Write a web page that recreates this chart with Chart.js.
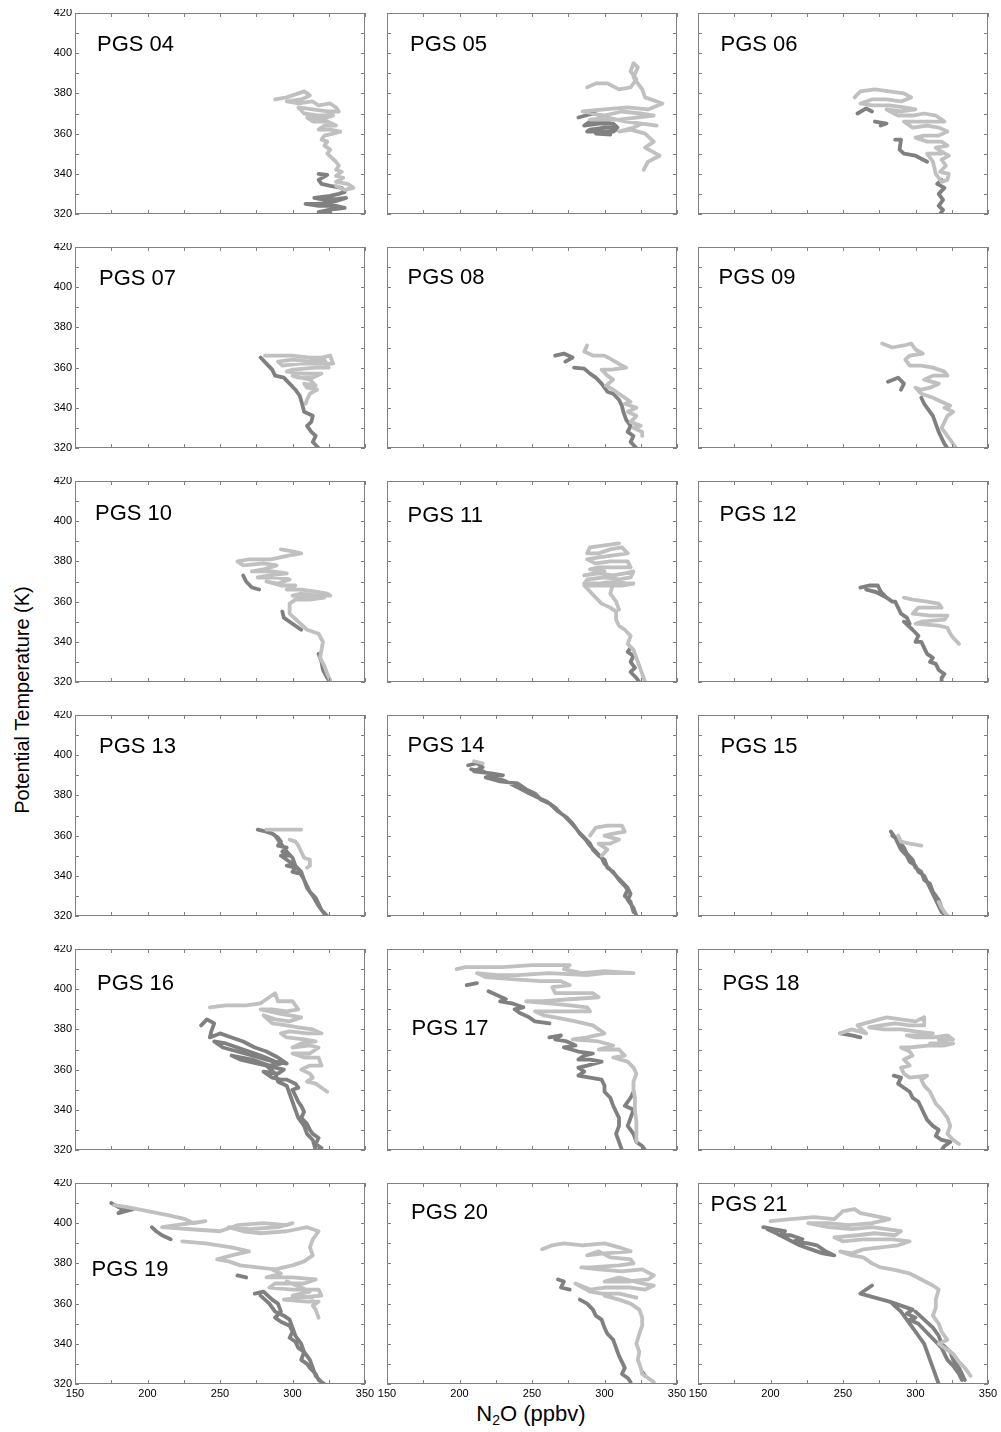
<!DOCTYPE html>
<html>
<head>
<meta charset="utf-8">
<title>PGS N2O profiles</title>
<script src="https://cdn.jsdelivr.net/npm/chart.js@4.4.1/dist/chart.umd.min.js"></script>
<style>
  body { margin: 0; background: #fff; width: 1001px; height: 1432px; position: relative; overflow: hidden;
         font-family: "Liberation Sans", Arial, sans-serif; }
  canvas { position: absolute; }
  #ytitle { position: absolute; left: 22px; top: 700px; transform: translate(-50%, -50%) rotate(-90deg);
            font-size: 20px; white-space: nowrap; }
  #xtitle { position: absolute; left: 531px; top: 1414px; transform: translate(-50%, -50%);
            font-size: 22px; white-space: nowrap; }
  #xtitle sub { font-size: 14px; vertical-align: -4px; }
</style>
</head>
<body>
<div id="ytitle">Potential Temperature (K)</div>
<div id="xtitle">N<sub>2</sub>O (ppbv)</div>
<script>
// axis ticks
const xTickValues = [150, 200, 250, 300, 350];
const yTickValues = [320, 340, 360, 380, 400, 420];
const xMinorTicks = [150, 175, 200, 225, 250, 275, 300, 325, 350];
const yMinorTicks = [320, 330, 340, 350, 360, 370, 380, 390, 400, 410, 420];

const panelNames = ['PGS 04', 'PGS 05', 'PGS 06', 'PGS 07', 'PGS 08', 'PGS 09',
                    'PGS 10', 'PGS 11', 'PGS 12', 'PGS 13', 'PGS 14', 'PGS 15',
                    'PGS 16', 'PGS 17', 'PGS 18', 'PGS 19', 'PGS 20', 'PGS 21'];

// [N2O, theta] pairs, null = gap in the track
const pgs04Light = [[288,377],[296,378],[304,380],[308,381],[312,379],[306,377],[296,376],[304,375],[314,376],[318,374],[326,375],[330,373],[332,371],[324,371],[314,372],[304,373],[308,370],[318,369],[328,369],[320,367],[310,368],[314,366],[324,366],[330,364],[322,364],[318,362],[326,362],[333,361],[328,360],[322,359],[320,357],[324,356],[322,354],[326,352],[324,350],[327,348],[330,346],[332,344],[330,342],[334,341],[330,339],[335,338],[330,336],[338,335],[342,333],[336,332],[330,334]];
const pgs04Dark = [[318,340],[324,339.5],[318,337],[320,335],[326,334],[334,333],[336,331],[332,330],[326,329],[315,328],[322,327],[331,327.5],[337,328],[328,326],[316,325],[309,325],[318,324],[330,324],[336,323],[325,322],[318,321],[326,320.5],[320,319.5]];

const pgs05Light = [[288,383],[294,385],[302,385],[310,382],[318,383],[322,387],[318,391],[320,395],[323,393],[320,388],[326,382],[328,378],[340,375],[330,372],[316,373],[300,372],[285,371],[300,369],[312,371],[325,370],[334,369],[322,368],[310,367],[290,367],[302,368],[315,366],[336,364],[326,365],[320,363],[310,361],[318,362],[328,360],[334,356],[328,353],[338,349],[330,346],[327,342]];
const pgs05Dark = [[282,368],[292,370],[298,369],[296,367],[304,367],[290,366],[286,364],[296,365],[306,365],[309,363],[300,363],[290,362],[288,361],[298,361],[306,361],[308,362],[300,360],[294,360],[304,359.5]];

const pgs06Light = [[258,378],[262,381],[272,382],[282,381],[292,380],[297,378],[290,376],[280,377],[270,377],[262,375],[270,374],[282,374],[292,373],[300,372],[290,371],[280,372],[288,369],[298,369],[306,370],[314,369],[320,366],[312,366],[300,366],[292,366],[298,363],[308,364],[316,363],[322,361],[316,359],[306,359],[300,358],[308,356],[318,356],[322,354],[314,353],[318,351],[323,349],[318,347],[321,344],[317,341],[323,340],[322,337],[318,336],[314,340],[312,346],[308,350],[318,350]];
const pgs06Dark = [[260,370],[266,372.5],[270,371],null,[272,366],[280,365],[276,364],null,[286,357],[290,357],[289,352],[292,350],[300,349],[308,346],null,[318,337],[315,335],[320,333],[316,330],[319,327],[316,324],[319,322],[317,320]];

const pgs07Light = [[281,366],[290,366],[300,366],[312,365],[320,365],[326,366],[328,362],[318,362],[305,362],[293,361],[290,363],[300,364],[312,363],[322,364],[325,360],[316,360],[300,359],[296,358],[308,357],[320,357],[314,355],[304,355],[300,356],[312,354],[316,351],[308,352],[310,350],[317,349],[312,347],[310,344],[309,342]];
const pgs07Dark = [[278,365],[282,362],[286,359],[288,356],[294,355],[298,352],[302,349],[305,346],[307,341],[308,338],[314,336],[313,333],[310,331],[313,328],[316,326],[314,323],[318,320]];

const pgs08Light = [[288,371],[286,368],[292,366],[300,366],[305,364],[312,361],[315,360],[305,359],[298,359],[302,356],[306,354],[301,351],[306,349],[312,346],[318,343],[314,342],[322,340],[316,338],[322,336],[318,333],[325,331],[320,330],[326,328],[326,326]];
const pgs08Dark = [[266,366],[272,367],[278,365],[273,363],null,[279,360],[286,359.5],[290,357],[294,355],[298,352],[302,348],[306,347],[310,344],[312,341],[313,338],[315,334],[318,331],[316,328],[320,326],[318,323],[322,320]];

const pgs09Light = [[277,372],[284,370],[292,371],[297,372],[300,369],[305,367],[296,366],[293,364],[296,361],[304,361],[312,360],[320,358],[322,356],[312,356],[306,354],[316,352],[310,350],[304,349],[300,350],[304,347],[312,345],[318,343],[324,341],[320,340],[326,338],[322,336],[320,333],[318,330],[322,326],[325,323],[328,320]];
const pgs09Dark = [[281,353],[288,355],[292,352],[290,349],null,[304,345],[306,342],[309,339],[312,336],[314,332],[316,328],[318,325],[320,322],[322,320]];

const pgs10Light = [[292,386],[300,385],[306,384],[298,383],[285,381],[270,381],[262,380],[266,378],[280,379],[289,378],[280,376],[272,375],[286,375],[296,374],[284,373],[276,372],[288,372],[298,371],[290,369],[282,370],[292,368],[302,368],[296,366],[306,366],[316,365],[324,364],[326,363],[316,363],[306,364],[300,363],[310,362],[322,362],[312,361],[302,361],[298,359],[298,357],[298,354],[304,350],[310,346],[318,344],[321,340],[320,336],[319,332],[322,328],[324,324],[326,321]];
const pgs10Dark = [[266,373],[268,370],[272,367],[277,366],null,[293,355],[294,352],[298,350],[302,348],[306,346],null,[318,334],[320,330],[321,326],[324,322],[326,320]];

const pgs11Light = [[310,389],[300,388],[290,387],[288,384],[296,384],[304,386],[312,387],[316,384],[306,383],[296,382],[288,381],[294,379],[304,380],[316,380],[318,377],[308,377],[296,377],[290,376],[300,375],[286,373],[296,374],[306,373],[314,374],[320,375],[318,372],[310,371],[300,372],[288,371],[286,369],[296,369],[306,370],[316,369],[320,369],[312,368],[300,368],[286,368],[290,365],[294,362],[298,359],[304,357],[308,355],[308,351],[310,348],[314,346],[318,343],[316,339],[320,336],[322,332],[324,328],[326,324],[328,320],null,[306,369],[304,364],[308,360],[310,356]];
const pgs11Dark = [[318,337],[316,335],[320,333],[318,330],[321,327],[318,325],[322,322],[324,320]];

const pgs12Light = [[292,362],[298,361],[308,360],[316,359],[318,357],[302,357],[298,354],[310,353],[322,353],[320,351],[304,350],[300,349],[316,348],[322,347],[324,344],[326,342],[330,339]];
const pgs12Dark = [[262,367],[268,368],[274,368],[276,365],[280,362],[272,365],[266,366],[276,364],[284,360],[286,360],[288,357],[290,354],[294,352],[296,349],[292,350],[298,346],[302,343],[300,340],[304,340],[306,337],[308,334],[312,332],[310,330],[314,329],[316,326],[320,324],[318,322],[318,320]];

const pgs13Light = [[282,363],[292,363],[300,363],[306,363],null,[298,358],[302,357],[304,355],[306,352],[308,349],[312,348],[312,345],[310,344]];
const pgs13Dark = [[276,363],[282,362],[286,361],[290,359],[292,357],[290,355],[296,354],[293,352],[298,350],[292,350],[296,348],[300,346],[296,345],[302,344],[300,342],[306,341],[304,343],[308,338],[310,335],[312,332],[316,329],[318,326],[320,323],[324,320],null,[288,360],[292,356],[296,352],[300,349],[302,345],[306,342],[308,338],[310,334],[314,330],[318,325],[322,321]];

const pgs14Light = [[210,397],[216,396],null,[290,360],[294,364],[302,365],[312,365],[314,362],[306,361],[300,360],[310,358],[304,356],[296,356],[302,353],[298,350]];
const pgs14Dark = [[206,395],[212,396],[216,394],[210,392],[222,391],[230,390],[218,389],[228,387],[240,386],[246,383],[252,381],[256,378],[262,376],[268,372],[272,370],[276,367],[280,364],[283,361],[287,358],[290,355],[294,352],[298,349],[300,346],[304,343],[308,340],[312,337],[316,334],[318,331],[316,328],[320,324],[322,320],null,[208,393],[216,392],[224,389],[232,387],[240,384],[248,381],[254,379],[260,377],[266,374],[270,371],[274,369],[278,366],[282,362],[286,359],[290,356],[292,353],[296,350],[300,348],[302,344],[306,342],[310,338],[314,335],[316,333],[314,330],[318,327],[320,322]];

const pgs15Light = [[288,360],[290,357],[296,356],[304,355],null,[316,327],[318,324],[322,320]];
const pgs15Dark = [[283,362],[286,359],[288,356],[290,353],[294,350],[296,347],[300,345],[302,342],[306,340],[308,337],[310,334],[312,331],[314,328],[316,325],[318,322],[322,320],null,[284,360],[288,358],[292,354],[294,351],[298,348],[300,344],[304,342],[306,338],[310,336],[312,332],[316,328],[318,324],[320,320]];

const pgs16Light = [[243,391],[254,392],[268,392],[278,393],[284,396],[288,398],[290,394],[300,394],[304,390],[296,389],[286,390],[278,390],[290,388],[306,386],[298,384],[288,385],[280,387],[286,383],[296,382],[304,381],[314,380],[320,378],[310,378],[298,379],[292,378],[296,376],[308,375],[316,374],[306,373],[300,371],[312,372],[318,371],[312,368],[300,368],[308,366],[318,366],[320,362],[312,362],[306,360],[312,358],[314,356],[310,354],[316,353],[322,350],[324,349]];
const pgs16Dark = [[237,382],[241,385],[246,383],[244,379],[243,376],[250,378],[258,376],[266,374],[274,371],[282,369],[290,366],[296,363],[288,364],[278,367],[266,370],[254,373],[246,374],[252,371],[262,369],[272,367],[282,365],[292,363],[284,362],[272,365],[258,367],[264,365],[276,363],[288,361],[294,360],[290,358],[280,359],[286,356],[292,355],[296,355],[302,353],[304,351],[300,350],[302,347],[304,344],[306,342],[308,339],[306,336],[310,333],[312,330],[314,328],[318,326],[316,323],[320,321],[318,320],null,[282,362],[288,358],[290,354],[296,352],[298,348],[300,344],[302,340],[304,336],[308,332],[310,328],[314,325],[316,320]];

const pgs17Light = [[198,410],[204,411],[212,411],[230,411],[250,412],[262,412],[276,412],[272,410],[284,408],[300,409],[320,408],[300,408],[288,407],[262,408],[240,407],[226,407],[212,408],[218,406],[236,405],[256,404],[270,404],[276,402],[264,401],[266,398],[280,398],[292,398],[296,396],[276,395],[258,394],[246,394],[262,393],[276,392],[288,391],[290,389],[268,389],[252,389],[258,387],[266,386],[280,384],[292,382],[296,380],[300,378],[288,376],[278,375],[296,374],[306,372],[296,370],[310,370],[314,367],[306,366],[316,364],[320,361],[322,358],[320,354],[320,350],[321,346],[321,340],[322,334],[322,328],[322,324]];
const pgs17Dark = [[205,402],[212,403],null,[220,399],[226,397],[232,395],[228,394],[236,393],[244,391],[238,390],[242,388],[248,386],[252,384],[262,383],null,[262,376],[270,377],[266,375],[274,374],[280,372],[272,371],[282,369],[292,368],[286,367],[282,365],[290,365],[298,364],[288,362],[282,361],[286,359],[282,357],[290,356],[298,355],[300,352],[300,349],[304,346],[306,342],[308,339],[310,336],[310,332],[308,328],[310,324],[312,320],null,[320,349],[318,346],[314,342],[320,340],[318,336],[316,332],[320,328],[322,324],[326,322],[328,320]];

const pgs18Light = [[248,378],[256,380],[266,378],[260,382],[270,384],[280,386],[290,385],[300,384],[306,386],[306,382],[296,382],[286,383],[276,382],[268,381],[278,380],[290,380],[300,379],[312,378],[304,377],[294,377],[300,376],[312,376],[322,377],[326,375],[316,375],[322,373],[310,373],[326,373],[320,372],[310,372],[296,371],[290,371],[296,369],[298,367],[292,365],[296,362],[290,361],[292,358],[296,356],[308,357],[304,355],[306,352],[310,349],[312,346],[314,343],[318,340],[322,336],[324,332],[322,328],[326,325],[330,323]];
const pgs18Dark = [[248,378],[256,377],[262,376],null,[285,357],[290,356],[288,353],[292,351],[296,349],[298,346],[302,344],[304,341],[306,338],[308,335],[312,332],[316,330],[314,327],[318,325],[324,324],[320,322],[318,320]];

const pgs19Light = [[177,409],[186,408],[200,406],[214,404],[226,402],[232,400],[240,401],[220,399],[210,398],[230,397],[250,396],[262,399],[280,400],[296,399],[300,400],[290,398],[270,397],[256,398],[266,396],[278,395],[296,396],[310,398],[318,396],[314,392],[312,388],[314,384],[308,381],[300,379],[288,377],[276,378],[264,379],[256,381],[248,382],[258,384],[270,386],[258,388],[240,390],[224,391],null,[286,377],[292,375],[282,373],[300,373],[316,372],[308,370],[288,370],[284,368],[300,367],[318,367],[320,364],[304,363],[294,362],[310,361],[318,361],[314,359],[316,357],[318,353],null,[296,371],[306,368],[312,366],[300,364],[314,363]];
const pgs19Dark = [[175,410],[180,408],[184,407],[180,405],[190,407],null,[203,398],[206,396],[210,394],[216,392],null,[262,374],[268,373],null,[274,365],[280,366],[286,362],[290,360],[292,356],[288,353],[292,351],[298,349],[300,346],[298,343],[302,341],[304,338],[308,336],[306,332],[310,330],[312,328],[316,325],[318,322],[322,320],null,[278,364],[284,360],[288,356],[294,354],[298,352],[300,348],[302,344],[306,340],[308,336],[312,332],[314,328],[316,324],[320,321]];

const pgs20Light = [[257,387],[264,389],[272,390],[285,389],[300,390],[310,388],[318,386],[300,385],[288,384],[296,386],[304,383],[318,382],[320,380],[310,379],[290,378],[284,378],[296,377],[312,376],[326,377],[334,374],[330,372],[316,371],[300,371],[310,373],[326,370],[334,369],[328,367],[318,368],[300,368],[290,367],[280,370],[290,366],[298,365],[310,365],[322,363],null,[300,364],[310,362],[318,360],[324,357],[326,353],[326,349],[324,345],[322,340],[324,336],[323,332],[325,328],[326,325],[332,322],[334,321]];
const pgs20Dark = [[268,372],[272,371],[270,368],[276,367],null,[283,362],[288,360],[292,357],[294,354],[298,352],[300,348],[302,345],[306,342],[308,338],[310,334],[312,331],[314,328],[312,325],[316,323],[318,321],null,[326,326],[328,324]];

const pgs21Light = [[200,401],[214,402],[230,403],[244,402],[250,406],[258,407],[262,405],[276,403],[282,402],[270,400],[254,399],[240,400],[226,400],[240,398],[256,397],[270,398],[290,396],[286,394],[272,395],[260,394],[244,393],[250,391],[264,392],[284,392],[296,391],[288,389],[276,388],[264,387],[256,385],[248,386],[256,384],[264,383],[270,380],[276,378],[284,377],[296,375],[304,372],[312,369],[316,367],[314,362],[314,358],[312,354],[316,350],[318,346],[322,342],[316,340],[322,337],[326,335],[330,331],[334,328],[338,324]];
const pgs21Dark = [[195,398],[202,397],[210,396],[206,394],[214,394],[222,392],[216,391],[226,390],[232,389],[238,386],[244,384],[236,385],[228,387],[220,389],[212,392],[204,395],[198,397],null,[270,369],[262,365],[272,363],[282,361],[290,359],[298,357],[294,355],[300,353],[296,352],[302,350],[306,347],[310,344],[314,341],[318,338],[320,335],[322,332],[326,329],[330,325],[332,322],null,[284,360],[290,356],[294,352],[298,348],[302,344],[306,340],[308,336],[310,332],[312,328],[314,324],[316,320],null,[300,356],[306,352],[312,348],[316,344],[318,340],[324,336],[326,332],[330,328],[334,322]];

const panelLight = [pgs04Light, pgs05Light, pgs06Light, pgs07Light, pgs08Light, pgs09Light,
                    pgs10Light, pgs11Light, pgs12Light, pgs13Light, pgs14Light, pgs15Light,
                    pgs16Light, pgs17Light, pgs18Light, pgs19Light, pgs20Light, pgs21Light];
const panelDark = [pgs04Dark, pgs05Dark, pgs06Dark, pgs07Dark, pgs08Dark, pgs09Dark,
                   pgs10Dark, pgs11Dark, pgs12Dark, pgs13Dark, pgs14Dark, pgs15Dark,
                   pgs16Dark, pgs17Dark, pgs18Dark, pgs19Dark, pgs20Dark, pgs21Dark];

// layout (page pixels)
const colLeft = [75, 387, 698];
const rowTop = [13, 247, 481, 715, 949, 1183];
const PW = 290, PH = 201;
const ML = 40, MR = 20, MT = 4, MB = 22;
// label offset from frame top-left: [left, middle]
const labelOffsets = [[22, 32], [23, 32], [22.5, 32],
                      [24, 32], [20.5, 31], [20.5, 31],
                      [20, 33], [20.5, 35], [21.5, 34],
                      [24, 32], [20.5, 31], [22.5, 32],
                      [22, 35], [24.5, 80], [24.5, 35],
                      [16.5, 87], [24, 30], [12.5, 22]];

const lightGray = '#c0c0c0';
const darkGray = '#808080';
const frameColor = '#808080';
const fontFamily = '"Liberation Sans", Arial, sans-serif';

function toPoints(arr) {
    return arr.map(p => p ? { x: p[0], y: p[1] } : { x: null, y: null });
}

// frame, inward minor ticks and panel name
const panelFrame = {
    id: 'panelFrame',
    afterDatasetsDraw(chart, args, opts) {
        const { ctx, chartArea: a } = chart;
        const xs = chart.scales.x, ys = chart.scales.y;
        const l = Math.round(a.left), t = Math.round(a.top);
        const r = Math.round(a.right), b = Math.round(a.bottom);
        ctx.save();
        ctx.strokeStyle = frameColor;
        ctx.lineWidth = 1;
        ctx.strokeRect(l + 0.5, t + 0.5, r - l - 1, b - t - 1);
        ctx.beginPath();
        xMinorTicks.forEach(v => {
            const px = Math.round(xs.getPixelForValue(v)) + 0.5;
            ctx.moveTo(px, t); ctx.lineTo(px, t + 4);
            ctx.moveTo(px, b); ctx.lineTo(px, b - 4);
        });
        yMinorTicks.forEach(v => {
            const py = Math.round(ys.getPixelForValue(v)) + 0.5;
            ctx.moveTo(l, py); ctx.lineTo(l + 4, py);
            ctx.moveTo(r, py); ctx.lineTo(r - 4, py);
        });
        ctx.stroke();
        ctx.fillStyle = '#000';
        ctx.font = '22px ' + fontFamily;
        ctx.textBaseline = 'middle';
        ctx.fillText(opts.name, l + opts.dx, t + opts.dy);
        ctx.restore();
    }
};

function makePanel(i) {
    const col = i % 3, row = Math.floor(i / 3);
    const canvas = document.createElement('canvas');
    canvas.width = PW + ML + MR;
    canvas.height = PH + MT + MB;
    canvas.style.left = (colLeft[col] - ML) + 'px';
    canvas.style.top = (rowTop[row] - MT) + 'px';
    document.body.appendChild(canvas);

    const lineStyle = { pointRadius: 0, borderWidth: 3.8, borderJoinStyle: 'round', borderCapStyle: 'round',
                        tension: 0, fill: false, clip: 0 };

    new Chart(canvas, {
        type: 'line',
        data: {
            datasets: [
                Object.assign({ data: toPoints(panelLight[i]), borderColor: lightGray }, lineStyle),
                Object.assign({ data: toPoints(panelDark[i]), borderColor: darkGray }, lineStyle)
            ]
        },
        options: {
            responsive: false,
            animation: false,
            devicePixelRatio: 1,
            layout: { padding: { left: 0, top: MT, right: MR, bottom: 0 } },
            plugins: {
                legend: { display: false },
                tooltip: { enabled: false },
                panelFrame: { name: panelNames[i], dx: labelOffsets[i][0], dy: labelOffsets[i][1] }
            },
            scales: {
                x: {
                    type: 'linear', min: 150, max: 350,
                    grid: { display: false, drawTicks: false },
                    border: { display: false },
                    ticks: { display: row === 5, padding: 3, maxRotation: 0, autoSkip: false,
                             color: '#000', font: { size: 11, family: fontFamily } },
                    afterBuildTicks: s => { s.ticks = xTickValues.map(v => ({ value: v })); },
                    afterFit: s => { s.height = MB; s.paddingLeft = 0; s.paddingRight = 0; }
                },
                y: {
                    type: 'linear', min: 320, max: 420,
                    grid: { display: false, drawTicks: false },
                    border: { display: false },
                    ticks: { display: col === 0, padding: 3, autoSkip: false,
                             color: '#000', font: { size: 11, family: fontFamily } },
                    afterBuildTicks: s => { s.ticks = yTickValues.map(v => ({ value: v })); },
                    afterFit: s => { s.width = ML; s.paddingTop = 0; s.paddingBottom = 0; }
                }
            }
        },
        plugins: [panelFrame]
    });
}

for (let i = 0; i < panelNames.length; i++) makePanel(i);
</script>
</body>
</html>
